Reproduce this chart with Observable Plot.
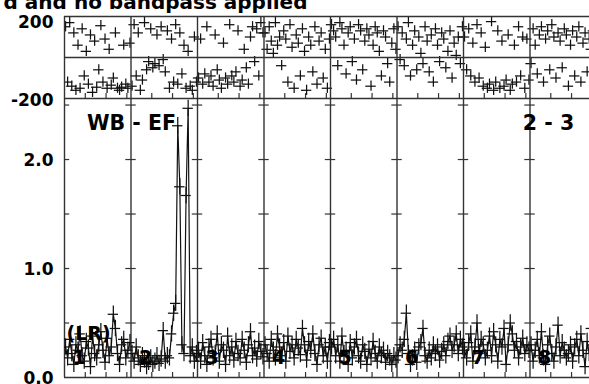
<!DOCTYPE html>
<html><head><meta charset="utf-8">
<script src="https://cdn.jsdelivr.net/npm/d3@7"></script>
<script src="https://cdn.jsdelivr.net/npm/@observablehq/plot@0.6"></script>
<style>
body{margin:0;background:#fff;}
#wrap{position:relative;width:589px;height:384px;overflow:hidden;}
#wrap svg{position:absolute;left:0;top:0;}
</style>
</head><body><div id="wrap"></div>
<script>
// ---- data ----
const ifNumbers = [1,2,3,4,5,6,7,8];
const nChan = 32;
const titleText = "d and no bandpass applied";
const baselineLabel = "WB - EF";
const stokesLabel = "(LR)";
const timeLabel = "2 - 3";
const phaseTicks = [-200, 200];
const ampTicks = [0, 1, 2];
const ampCrossTicks = [0.5, 1.0, 1.5, 2.0, 2.5];
const chanTicks = [10, 20, 30];

const ph1 = [150,-120,170,-140,120,-160,60,-150,140,-90,30,-130,110,-170,80,-145,-60,155,-120,90,-150,40,-135,-100,120,-150,-160,-145,60,-130,-150,70];
const ph2 = [-140,160,-90,120,-160,-110,170,-60,-20,140,-50,-30,110,-40,150,-10,-70,130,-150,90,-120,160,-130,120,-80,60,-150,30,-140,-160,100,-120];
const ph3 = [-100,90,-130,-80,150,-120,-90,-140,110,-60,-110,-150,70,-100,-130,160,-90,-120,-70,130,-140,-110,40,-50,-130,100,150,-20,140,-90,170,120];
const ph4 = [120,40,150,80,20,170,60,100,-40,130,90,-120,160,50,-150,110,70,-90,140,30,-160,100,60,-70,150,-130,80,120,-100,40,-150,90];
const ph5 = [160,130,100,-40,170,140,60,-80,120,150,-20,90,-110,160,130,-60,80,140,110,-140,60,150,120,30,-90,130,100,-30,-120,70,140,40];
const ph6 = [150,-10,120,-40,90,170,-90,60,130,-60,100,20,-30,150,80,-70,110,-120,140,60,-20,120,90,-50,30,130,-100,70,10,100,-30,150];
const ph7 = [100,-60,140,-90,70,-120,160,-100,120,-140,50,-150,-130,175,-160,-120,130,-150,80,-140,-110,110,-160,-130,60,-120,150,-90,100,-150,90,-110];
const ph8 = [-30,140,60,-80,110,150,-120,90,130,-60,160,100,-100,120,80,-50,140,110,-140,60,130,-90,100,150,-120,70,120,-70,90,40,130,-150];

const amp1 = [0.28,0.18,0.35,0.22,0.12,0.30,0.25,0.40,0.20,0.15,0.33,0.27,0.10,0.38,0.22,0.18,0.30,0.42,0.25,0.14,0.36,0.20,0.28,0.58,0.45,0.22,0.12,0.30,0.35,0.18,0.25,0.32];
const amp2 = [0.22,0.15,0.28,0.18,0.12,0.20,0.16,0.10,0.14,0.18,0.12,0.15,0.20,0.13,0.17,0.43,0.15,0.20,0.18,0.40,0.59,0.68,2.31,1.75,0.30,0.22,1.67,2.47,0.20,0.28,0.15,0.22];
const amp3 = [0.25,0.15,0.32,0.20,0.12,0.28,0.35,0.18,0.22,0.40,0.15,0.30,0.25,0.12,0.38,0.20,0.28,0.16,0.33,0.22,0.18,0.35,0.25,0.14,0.30,0.42,0.20,0.27,0.17,0.33,0.24,0.19];
const amp4 = [0.30,0.22,0.15,0.35,0.25,0.18,0.40,0.28,0.20,0.32,0.15,0.38,0.24,0.30,0.18,0.35,0.27,0.21,0.45,0.30,0.16,0.33,0.25,0.40,0.22,0.12,0.30,0.36,0.20,0.28,0.15,0.32];
const amp5 = [0.28,0.35,0.20,0.30,0.15,0.38,0.22,0.25,0.12,0.32,0.18,0.28,0.35,0.20,0.15,0.30,0.24,0.12,0.26,0.18,0.33,0.22,0.15,0.28,0.20,0.25,0.14,0.22,0.18,0.12,0.20,0.16];
const amp6 = [0.20,0.30,0.25,0.35,0.59,0.22,0.12,0.18,0.25,0.14,0.28,0.32,0.45,0.20,0.15,0.25,0.18,0.30,0.22,0.28,0.16,0.24,0.30,0.20,0.33,0.38,0.25,0.30,0.40,0.22,0.35,0.28];
const amp7 = [0.25,0.18,0.32,0.40,0.15,0.28,0.50,0.22,0.35,0.30,0.18,0.25,0.38,0.20,0.42,0.30,0.15,0.35,0.28,0.45,0.12,0.30,0.50,0.40,0.25,0.33,0.18,0.28,0.36,0.22,0.30,0.25];
const amp8 = [0.30,0.15,0.25,0.35,0.20,0.42,0.18,0.12,0.30,0.38,0.22,0.15,0.28,0.48,0.20,0.32,0.25,0.18,0.22,0.30,0.15,0.28,0.35,0.20,0.40,0.25,0.10,0.33,0.22,0.45,0.30,0.25];

const phases = [ph1,ph2,ph3,ph4,ph5,ph6,ph7,ph8];
const amps = [amp1,amp2,amp3,amp4,amp5,amp6,amp7,amp8];

// ---- tables ----
const pts = [];
ifNumbers.forEach((n, i) => {
  for (let c = 0; c < nChan; c++) pts.push({if: n, x: i*nChan + c + 0.5, ph: phases[i][c], amp: amps[i][c]});
});
const borders = d3.range(0, ifNumbers.length + 1).map(i => i*nChan);
const cTicks = borders.slice(0, -1).flatMap(b => chanTicks.map(t => b + t));
const bTicks = borders.flatMap(b => ampCrossTicks.map(v => ({b, v})));

const FONT = "DejaVu Sans, sans-serif";
const xOpt = {domain: [0, ifNumbers.length*nChan], range: [64, 596], axis: null};
const armX = 2.5, armPh = 25, armAmp = 0.075;
const ink = "#111", frame = "#333";

const phasePlot = Plot.plot({
  width: 589, height: 384,
  marginTop: 16, marginBottom: 286, marginLeft: 64, marginRight: 0,
  x: xOpt,
  y: {domain: [-200, 200], axis: null, label: null},
  style: {background: "transparent", fontFamily: FONT, fontWeight: "bold", fontSize: "17px", color: "#000"},
  marks: [
    Plot.ruleY(pts, {x1: d => d.x - armX, x2: d => d.x + armX, y: "ph", stroke: ink, strokeWidth: 1.25, clip: "frame"}),
    Plot.ruleX(pts, {x: "x", y1: d => d.ph - armPh, y2: d => d.ph + armPh, stroke: ink, strokeWidth: 1.25, clip: "frame"}),
    Plot.ruleY([-200, 0, 200], {stroke: frame, strokeWidth: 1.4}),
    Plot.ruleX(borders, {y1: -200, y2: 200, stroke: frame, strokeWidth: 1.4}),
    Plot.ruleX(cTicks, {y1: -200, y2: -176, stroke: frame, strokeWidth: 1.2}),
    Plot.axisY([phaseTicks[1]], {tickSize: 0, tickPadding: 11, dy: 6, fill: "#000", label: null, tickFormat: d => String(d)}),
    Plot.axisY([phaseTicks[0]], {tickSize: 0, tickPadding: 11, dy: 2, fill: "#000", label: null, tickFormat: d => String(d)}),
    Plot.text([titleText], {frameAnchor: "top-left", dx: 243, dy: -8, textAnchor: "end", lineAnchor: "bottom", fontSize: 20, fill: "#000"})
  ]
});

const ampPlot = Plot.plot({
  width: 589, height: 384,
  marginTop: 98, marginBottom: 7, marginLeft: 64, marginRight: 0,
  x: xOpt,
  y: {domain: [0, 2.56], axis: null, label: null},
  style: {background: "transparent", fontFamily: FONT, fontWeight: "bold", fontSize: "17px", color: "#000"},
  marks: [
    Plot.ruleY([0], {stroke: frame, strokeWidth: 1.4}),
    Plot.ruleX(borders, {y1: 0, y2: 2.56, stroke: frame, strokeWidth: 1.4}),
    Plot.ruleY(bTicks, {x1: d => Math.max(0, d.b - armX), x2: d => d.b + armX, y: "v", stroke: frame, strokeWidth: 1.2}),
    Plot.ruleX(cTicks, {y1: 0, y2: 0.046, stroke: frame, strokeWidth: 1.2}),
    Plot.line(pts, {x: "x", y: "amp", z: "if", stroke: ink, strokeWidth: 1.2, curve: "linear"}),
    Plot.ruleY(pts, {x1: d => d.x - armX, x2: d => d.x + armX, y: "amp", stroke: ink, strokeWidth: 1.25, clip: "frame"}),
    Plot.ruleX(pts, {x: "x", y1: d => Math.max(0, d.amp - armAmp), y2: d => d.amp + armAmp, stroke: ink, strokeWidth: 1.25, clip: "frame"}),
    Plot.axisY(ampTicks, {tickSize: 0, tickPadding: 11, dy: 1, tickFormat: d3.format(".1f"), fill: "#000", label: null}),
    Plot.text(ifNumbers, {x: d => (d - 1)*nChan + 7, frameAnchor: "bottom", dy: -20, text: d => String(d), fontSize: 19, fill: "#000", lineAnchor: "middle"}),
    Plot.text([baselineLabel], {frameAnchor: "top-left", dx: 67, dy: 25, textAnchor: "middle", lineAnchor: "middle", fontSize: 20.5, fill: "#000"}),
    Plot.text([timeLabel], {frameAnchor: "top-left", dx: 484, dy: 25, textAnchor: "middle", lineAnchor: "middle", fontSize: 20.5, fill: "#000"}),
    Plot.text([stokesLabel], {frameAnchor: "bottom-left", dx: 2, dy: -44, textAnchor: "start", lineAnchor: "middle", fontSize: 19, fill: "#000"})
  ]
});

const wrap = document.getElementById("wrap");
wrap.appendChild(ampPlot);
wrap.appendChild(phasePlot);
</script>
</body></html>
